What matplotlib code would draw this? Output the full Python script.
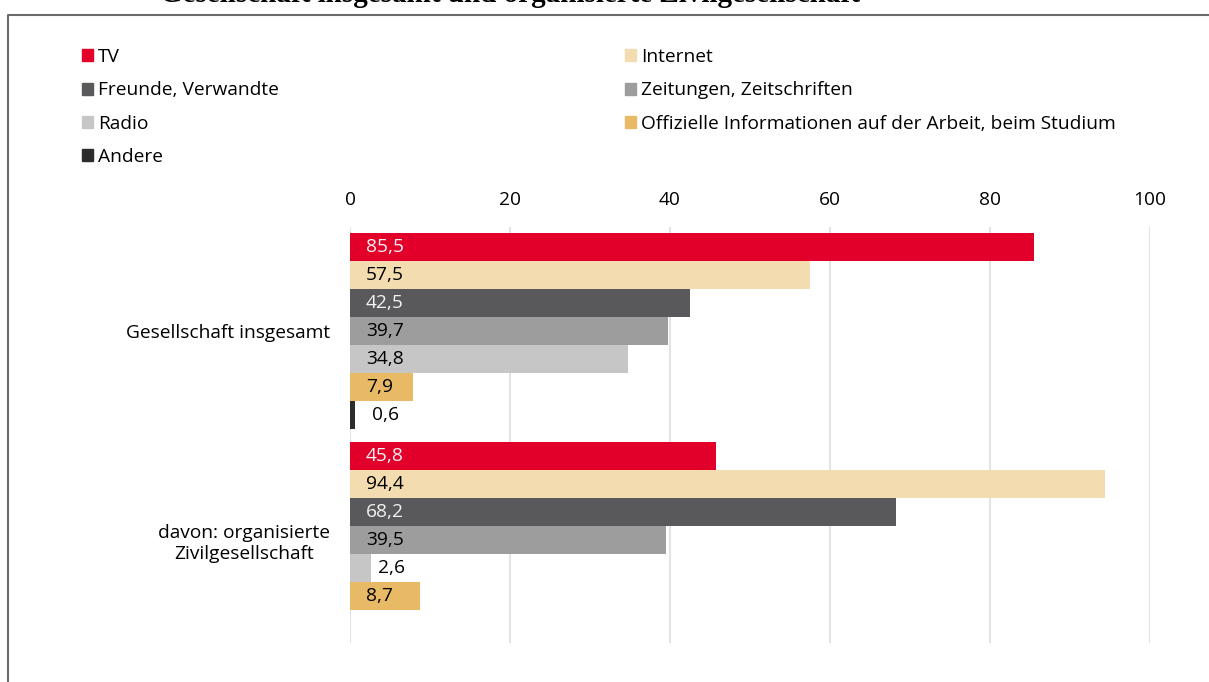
import numpy as np
import matplotlib.pyplot as plt
from matplotlib.lines import Line2D
from matplotlib.patches import Patch

plt.rcParams['font.family'] = ['Open Sans', 'DejaVu Sans']

# Daten
categories = ['Gesellschaft insgesamt', 'davon: organisierte\nZivilgesellschaft']
series = ['TV', 'Internet', 'Freunde, Verwandte', 'Zeitungen, Zeitschriften',
          'Radio', 'Offizielle Informationen auf der Arbeit, beim Studium', 'Andere']
tv = [85.5, 45.8]
internet = [57.5, 94.4]
freunde = [42.5, 68.2]
zeitungen = [39.7, 39.5]
radio = [34.8, 2.6]
offiziell = [7.9, 8.7]
andere = [0.6, None]
values = [tv, internet, freunde, zeitungen, radio, offiziell, andere]
colors = ['#E2002B', '#F3DCB0', '#59585A', '#9D9D9E', '#C6C6C6', '#E8BA66', '#2C2C2C']
label_colors = ['#F2F2F2', 'black', '#F2F2F2', 'black', 'black', 'black', 'black']
xticks = [0, 20, 40, 60, 80, 100]

fs = 13.75
W, H = 1209, 682
fig = plt.figure(figsize=(W / 100, H / 100), dpi=100)
ax = fig.add_axes([350 / W, 1 - 643 / H, 800 / W, (643 - 227) / H])

h = 28 / 209
n = len(series)
for i, (vals, c, lc) in enumerate(zip(values, colors, label_colors)):
    for j, v in enumerate(vals):
        if v is None:
            continue
        y = j - (n / 2) * h + (i + 0.5) * h
        ax.barh(y, v, height=h, color=c, zorder=3)
        lx = 2 if v >= 5 else max(2.75, v + 0.85)
        ax.text(lx, y, f'{v:.1f}'.replace('.', ','), va='center', ha='left',
                fontsize=fs, color=lc, zorder=4)

ax.set_xlim(0, 100)
ax.set_ylim(1 + 103 / 209, -104 / 209)
ax.set_xticks(xticks)
ax.xaxis.tick_top()
ax.tick_params(axis='x', length=0, pad=13, labelsize=fs)
ax.set_yticks(range(len(categories)))
ax.set_yticklabels(categories, fontsize=fs)
for lab in ax.get_yticklabels():
    lab.set_multialignment('center')
ax.tick_params(axis='y', length=0, pad=14.4)
ax.grid(axis='x', color='#E3E3E3', linewidth=1.5, zorder=0)
for s in ax.spines.values():
    s.set_visible(False)

# Legende
handles = [Patch(color=c, label=s) for s, c in zip(series, colors)]
order = [0, 2, 4, 6, 1, 3, 5]
fig.legend([handles[k] for k in order], [series[k] for k in order], ncol=2,
           loc='upper left', bbox_to_anchor=(74 / W, 1 - 40.5 / H), frameon=False,
           fontsize=fs, handlelength=0.6, handleheight=0.6, handletextpad=0.27,
           labelspacing=0.8, columnspacing=18.1, borderaxespad=0)

# Rahmen und abgeschnittener Titel
fig.add_artist(Line2D([8 / W, 8 / W, 1], [0, 1 - 15 / H, 1 - 15 / H],
                      transform=fig.transFigure, color='#6B6B6B', linewidth=1.5))
fig.text(160 / W, 1 - 2 / H, 'Gesellschaft insgesamt und organisierte Zivilgesellschaft',
         fontsize=21, fontweight='bold', family='Liberation Serif', va='baseline')

plt.savefig('out.png', dpi=100)
